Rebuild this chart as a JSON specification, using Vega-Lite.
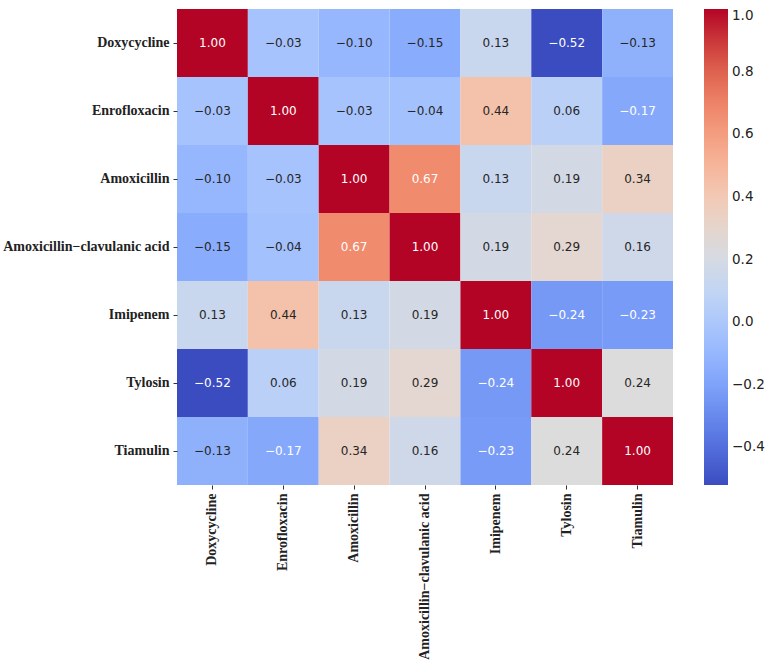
{
  "$schema": "https://vega.github.io/schema/vega-lite/v6.json",
  "width": 496,
  "height": 476,
  "padding": {"left": 2, "top": 9, "right": 0, "bottom": 5},
  "background": "white",
  "config": {"view": {"stroke": null}},
  "data": {"values": [
    {"row": "Doxycycline", "col": "Doxycycline", "r": 1.00},
    {"row": "Doxycycline", "col": "Enrofloxacin", "r": -0.03},
    {"row": "Doxycycline", "col": "Amoxicillin", "r": -0.10},
    {"row": "Doxycycline", "col": "Amoxicillin−clavulanic acid", "r": -0.15},
    {"row": "Doxycycline", "col": "Imipenem", "r": 0.13},
    {"row": "Doxycycline", "col": "Tylosin", "r": -0.52},
    {"row": "Doxycycline", "col": "Tiamulin", "r": -0.13},
    {"row": "Enrofloxacin", "col": "Doxycycline", "r": -0.03},
    {"row": "Enrofloxacin", "col": "Enrofloxacin", "r": 1.00},
    {"row": "Enrofloxacin", "col": "Amoxicillin", "r": -0.03},
    {"row": "Enrofloxacin", "col": "Amoxicillin−clavulanic acid", "r": -0.04},
    {"row": "Enrofloxacin", "col": "Imipenem", "r": 0.44},
    {"row": "Enrofloxacin", "col": "Tylosin", "r": 0.06},
    {"row": "Enrofloxacin", "col": "Tiamulin", "r": -0.17},
    {"row": "Amoxicillin", "col": "Doxycycline", "r": -0.10},
    {"row": "Amoxicillin", "col": "Enrofloxacin", "r": -0.03},
    {"row": "Amoxicillin", "col": "Amoxicillin", "r": 1.00},
    {"row": "Amoxicillin", "col": "Amoxicillin−clavulanic acid", "r": 0.67},
    {"row": "Amoxicillin", "col": "Imipenem", "r": 0.13},
    {"row": "Amoxicillin", "col": "Tylosin", "r": 0.19},
    {"row": "Amoxicillin", "col": "Tiamulin", "r": 0.34},
    {"row": "Amoxicillin−clavulanic acid", "col": "Doxycycline", "r": -0.15},
    {"row": "Amoxicillin−clavulanic acid", "col": "Enrofloxacin", "r": -0.04},
    {"row": "Amoxicillin−clavulanic acid", "col": "Amoxicillin", "r": 0.67},
    {"row": "Amoxicillin−clavulanic acid", "col": "Amoxicillin−clavulanic acid", "r": 1.00},
    {"row": "Amoxicillin−clavulanic acid", "col": "Imipenem", "r": 0.19},
    {"row": "Amoxicillin−clavulanic acid", "col": "Tylosin", "r": 0.29},
    {"row": "Amoxicillin−clavulanic acid", "col": "Tiamulin", "r": 0.16},
    {"row": "Imipenem", "col": "Doxycycline", "r": 0.13},
    {"row": "Imipenem", "col": "Enrofloxacin", "r": 0.44},
    {"row": "Imipenem", "col": "Amoxicillin", "r": 0.13},
    {"row": "Imipenem", "col": "Amoxicillin−clavulanic acid", "r": 0.19},
    {"row": "Imipenem", "col": "Imipenem", "r": 1.00},
    {"row": "Imipenem", "col": "Tylosin", "r": -0.24},
    {"row": "Imipenem", "col": "Tiamulin", "r": -0.23},
    {"row": "Tylosin", "col": "Doxycycline", "r": -0.52},
    {"row": "Tylosin", "col": "Enrofloxacin", "r": 0.06},
    {"row": "Tylosin", "col": "Amoxicillin", "r": 0.19},
    {"row": "Tylosin", "col": "Amoxicillin−clavulanic acid", "r": 0.29},
    {"row": "Tylosin", "col": "Imipenem", "r": -0.24},
    {"row": "Tylosin", "col": "Tylosin", "r": 1.00},
    {"row": "Tylosin", "col": "Tiamulin", "r": 0.24},
    {"row": "Tiamulin", "col": "Doxycycline", "r": -0.13},
    {"row": "Tiamulin", "col": "Enrofloxacin", "r": -0.17},
    {"row": "Tiamulin", "col": "Amoxicillin", "r": 0.34},
    {"row": "Tiamulin", "col": "Amoxicillin−clavulanic acid", "r": 0.16},
    {"row": "Tiamulin", "col": "Imipenem", "r": -0.23},
    {"row": "Tiamulin", "col": "Tylosin", "r": 0.24},
    {"row": "Tiamulin", "col": "Tiamulin", "r": 1.00}
  ]},
  "encoding": {
    "x": {"field": "col", "type": "nominal",
      "sort": ["Doxycycline","Enrofloxacin","Amoxicillin","Amoxicillin−clavulanic acid","Imipenem","Tylosin","Tiamulin"],
      "scale": {"paddingInner": 0, "paddingOuter": 0},
      "axis": {"title": null, "labelAngle": -90, "labelAlign": "right", "labelBaseline": "middle",
        "labelFont": "Liberation Serif", "labelFontWeight": "bold", "labelFontSize": 14, "labelColor": "#222",
        "tickSize": 4, "tickColor": "#333", "labelPadding": 4, "domain": false, "labelLimit": 300}},
    "y": {"field": "row", "type": "nominal",
      "sort": ["Doxycycline","Enrofloxacin","Amoxicillin","Amoxicillin−clavulanic acid","Imipenem","Tylosin","Tiamulin"],
      "scale": {"paddingInner": 0, "paddingOuter": 0},
      "axis": {"title": null, "labelFont": "Liberation Serif", "labelFontWeight": "bold", "labelFontSize": 14, "labelColor": "#222",
        "tickSize": 4, "tickColor": "#333", "labelPadding": 4, "domain": false, "labelLimit": 300}}
  },
  "layer": [
    {"mark": {"type": "rect"},
     "encoding": {"color": {"field": "r", "type": "quantitative",
       "scale": {"type": "linear",
         "domain": [-0.52, -0.368, -0.216, -0.064, 0.088, 0.24, 0.392, 0.544, 0.696, 0.848, 1.0],
         "range": ["#3b4cc0", "#5977e3", "#7b9ff9", "#9ebeff", "#c0d4f5", "#dddcdc", "#f2cbb7", "#f7ac8e", "#ee8468", "#d65244", "#b40426"],
         "interpolate": "rgb"},
       "legend": {"title": null, "values": [-0.4, -0.2, 0, 0.2, 0.4, 0.6, 0.8, 1.0], "format": ".1f",
         "gradientLength": 476, "gradientThickness": 24, "offset": 31, "labelFont": "DejaVu Sans", "labelFontSize": 13.5,
         "labelColor": "#222", "labelOffset": 4, "gradientStrokeWidth": 0, "padding": 0}}}},
    {"mark": {"type": "text", "font": "DejaVu Sans", "fontSize": 12},
     "encoding": {
       "text": {"field": "r", "type": "quantitative", "format": ".2f"},
       "color": {"condition": {"test": "datum.r >= 0.6 || datum.r <= -0.17", "value": "white"}, "value": "#262626"}}}
  ]
}
